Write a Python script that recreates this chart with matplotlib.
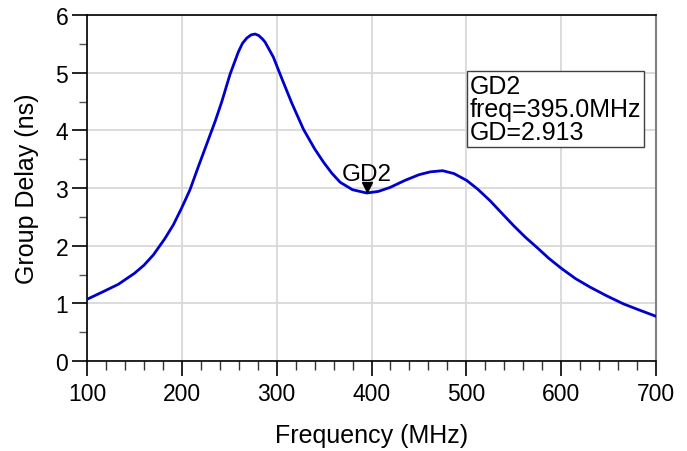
import numpy as np
import matplotlib
matplotlib.use('Agg')
import matplotlib.pyplot as plt
from matplotlib.ticker import MultipleLocator

plt.rcParams['font.family'] = ['Liberation Sans', 'DejaVu Sans']

# group delay
freq_mhz = [100, 115.5, 133, 150, 160, 170, 182, 191, 200, 208.6, 217.4, 228, 235,
            242, 250.8, 259.6, 264, 268.5, 273, 277.2, 281, 285, 287.8, 296.5, 305.4,
            316, 328.2, 340, 349.3, 358, 366.9, 380, 395, 407, 419.6, 435, 450, 462,
            475, 487, 500.5, 512, 525, 537, 549.7, 562, 574.4, 587, 600.7, 615,
            630.6, 648, 665.7, 683, 700]
gd_ns = [1.07, 1.19, 1.33, 1.52, 1.66, 1.84, 2.12, 2.36, 2.66, 2.97, 3.37, 3.84, 4.15,
         4.49, 4.97, 5.36, 5.51, 5.60, 5.655, 5.67, 5.645, 5.585, 5.53, 5.27, 4.90,
         4.47, 4.02, 3.68, 3.45, 3.26, 3.10, 2.97, 2.913, 2.94, 3.01, 3.13, 3.23, 3.28,
         3.30, 3.25, 3.13, 2.98, 2.78, 2.57, 2.35, 2.15, 1.97, 1.78, 1.60, 1.43,
         1.28, 1.13, 0.99, 0.88, 0.775]

marker_name = 'GD2'
marker_freq = 395.0
marker_gd = 2.913

fig = plt.figure(figsize=(6.87, 4.52), dpi=100)
ax = fig.add_axes([87 / 687, 90 / 452, (656 - 87) / 687, (362 - 16) / 452])

ax.plot(freq_mhz, gd_ns, color='#0000cc', lw=2.0, zorder=3)

# marker
ax.plot([marker_freq], [marker_gd + 0.11], marker='v', color='black', ms=7.5, zorder=4)
ax.text(marker_freq, marker_gd + 0.23, marker_name, ha='center', va='baseline',
        fontsize=17.5, zorder=4)
ax.text(0.673, 0.83,
        f'{marker_name}\nfreq={marker_freq:.1f}MHz\nGD={marker_gd:.3f}',
        transform=ax.transAxes, ha='left', va='top', fontsize=18, linespacing=0.95,
        bbox=dict(boxstyle='square,pad=0.12', fc='white', ec='#404040', lw=1.0),
        zorder=5)

ax.set_xlim(100, 700)
ax.set_ylim(0, 6)
ax.xaxis.set_major_locator(MultipleLocator(100))
ax.xaxis.set_minor_locator(MultipleLocator(20))
ax.yaxis.set_major_locator(MultipleLocator(1))
ax.yaxis.set_minor_locator(MultipleLocator(0.5))

ax.grid(True, which='major', color='#d9d9d9', lw=1.3, zorder=0)
ax.set_axisbelow(True)

ax.tick_params(axis='both', which='major', direction='out', length=11, width=1.2,
               color='black', labelsize=16.5)
ax.tick_params(axis='x', which='major', pad=4)
ax.tick_params(axis='y', which='major', pad=2.5)
ax.tick_params(axis='x', which='minor', direction='out', length=6.5, width=1.0,
               color='#333333')
ax.tick_params(axis='y', which='minor', direction='out', length=6, width=1.0,
               color='#555555')

for side in ['left', 'bottom', 'top']:
    ax.spines[side].set_color('black')
    ax.spines[side].set_linewidth(1.2)
ax.spines['right'].set_color('#808080')
ax.spines['right'].set_linewidth(1.5)

ax.set_xlabel('Frequency (MHz)', fontsize=18, labelpad=13)
ax.set_ylabel('Group Delay (ns)', fontsize=18, labelpad=12)

fig.savefig('out.png', dpi=100)
